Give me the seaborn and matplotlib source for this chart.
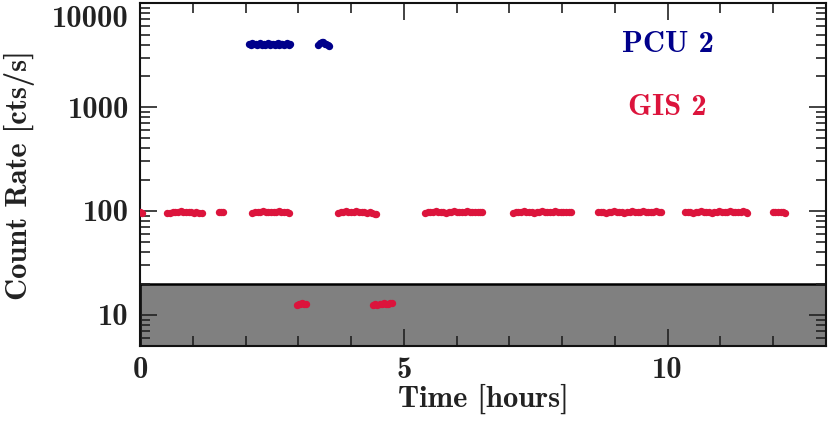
import seaborn as sns
from matplotlib import pyplot as plt
from matplotlib import ticker
from matplotlib.transforms import ScaledTranslation
import pandas as pd

# time [h] and count rates
pcu_time = [2.07, 2.10, 2.13, 2.16, 2.19, 2.22, 2.25, 2.28, 2.31, 2.34, 2.37, 2.40,
            2.43, 2.46, 2.49, 2.52, 2.55, 2.58, 2.61, 2.64, 2.67, 2.70, 2.73, 2.76,
            2.79, 2.82, 2.84,
            3.38, 3.41, 3.44, 3.47, 3.50, 3.53, 3.56, 3.58]
pcu_rate = [4100, 4000, 4150, 4050, 4100, 3950, 4080, 4120, 4000, 4100, 3980, 4080,
            4150, 4000, 4100, 4050, 3950, 4080, 4120, 4000, 4100, 4050, 3980, 4080,
            4120, 4000, 4050,
            3950, 4150, 4250, 4200, 4100, 4050, 4000, 3900]

gis_time = [0.00, 0.04,
            0.52, 0.57, 0.62, 0.67, 0.72, 0.77, 0.82, 0.87, 0.92, 0.97, 1.02, 1.07, 1.12, 1.17,
            1.50, 1.54, 1.57,
            2.13, 2.18, 2.23, 2.28, 2.33, 2.38, 2.43, 2.48, 2.53, 2.58, 2.63, 2.68, 2.73, 2.78, 2.83,
            3.75, 3.80, 3.85, 3.90, 3.95, 4.00, 4.05, 4.10, 4.15, 4.20, 4.25, 4.30, 4.35, 4.40, 4.45, 4.48,
            5.40, 5.45, 5.50, 5.55, 5.60, 5.65, 5.70, 5.75, 5.80, 5.85, 5.90, 5.95, 6.00, 6.05,
            6.10, 6.15, 6.20, 6.25, 6.30, 6.35, 6.40, 6.45, 6.48,
            7.07, 7.12, 7.17, 7.22, 7.27, 7.32, 7.37, 7.42, 7.47, 7.52, 7.57, 7.62, 7.67, 7.72,
            7.77, 7.82, 7.87, 7.92, 7.97, 8.02, 8.07, 8.12, 8.16,
            8.68, 8.73, 8.78, 8.83, 8.88, 8.93, 8.98, 9.03, 9.08, 9.13, 9.18, 9.23, 9.28, 9.33,
            9.38, 9.43, 9.48, 9.53, 9.58, 9.63, 9.68, 9.73, 9.78, 9.83, 9.87,
            10.33, 10.38, 10.43, 10.48, 10.53, 10.58, 10.63, 10.68, 10.73, 10.78, 10.83, 10.88,
            10.93, 10.98, 11.03, 11.08, 11.13, 11.18, 11.23, 11.28, 11.33, 11.38, 11.43, 11.48, 11.51,
            11.99, 12.04, 12.09, 12.14, 12.19, 12.22,
            2.98, 3.01, 3.04, 3.07, 3.10, 3.14,
            4.42, 4.46, 4.50, 4.54, 4.58, 4.62, 4.66, 4.70, 4.74, 4.78]
gis_rate = [97, 96,
            95, 96, 97, 98, 97, 99, 98, 97, 98, 97, 96, 97, 96, 95,
            97, 98, 97,
            96, 97, 98, 97, 99, 98, 97, 98, 97, 98, 99, 97, 98, 97, 96,
            96, 97, 98, 99, 98, 97, 98, 99, 97, 98, 97, 96, 97, 95, 94, 93,
            96, 97, 98, 97, 99, 97, 98, 97, 96, 98, 97, 99, 98, 97,
            98, 97, 99, 98, 97, 98, 97, 98, 97,
            96, 97, 98, 97, 99, 97, 98, 97, 96, 98, 97, 99, 98, 97,
            98, 97, 99, 98, 97, 98, 97, 98, 97,
            97, 98, 97, 96, 98, 97, 99, 97, 98, 97, 96, 98, 97, 99,
            98, 97, 98, 99, 97, 98, 97, 98, 99, 97, 98,
            97, 98, 97, 96, 98, 97, 99, 97, 98, 97, 96, 98,
            97, 99, 98, 97, 98, 99, 97, 98, 97, 98, 99, 97, 96,
            97, 98, 97, 98, 97, 96,
            12.5, 12.8, 12.7, 12.9, 12.6, 12.7,
            12.3, 12.6, 12.5, 12.8, 12.6, 12.9, 12.7, 12.8, 12.9, 13.0]

pcu = pd.DataFrame({"time": pcu_time, "rate": pcu_rate})
gis = pd.DataFrame({"time": gis_time, "rate": gis_rate})

sns.set_style("ticks")
plt.rcParams["font.family"] = ["cmb10", "DejaVu Serif"]
plt.rcParams["axes.unicode_minus"] = False

FS = 22
fig = plt.figure(figsize=(8.3, 4.21), dpi=100)
ax = fig.add_axes([0.1687, 0.178, 0.8265, 0.814])

ax.axhspan(5, 20, facecolor="#808080", edgecolor="black", linewidth=1.8, zorder=0.5)

sns.scatterplot(data=pcu, x="time", y="rate", color="#00008B", s=28, linewidth=0,
                ax=ax, zorder=3)
sns.scatterplot(data=gis, x="time", y="rate", color="#DC143C", s=28, linewidth=0,
                ax=ax, zorder=3)

ax.set_yscale("log")
ax.set_xlim(0, 13)
ax.set_ylim(5, 10000)

ax.xaxis.set_major_locator(ticker.MultipleLocator(5))
ax.xaxis.set_minor_locator(ticker.MultipleLocator(1))
ax.set_yticks([10, 100, 1000, 10000])
ax.set_yticklabels(["10", "100", "1000", "10000"])
ax.yaxis.set_minor_locator(ticker.LogLocator(base=10, subs=range(2, 10)))
ax.yaxis.set_minor_formatter(ticker.NullFormatter())

ax.tick_params(which="both", direction="in", top=True, right=True, width=1.2,
               color="#222222", labelsize=FS, labelcolor="#222222")
ax.tick_params(which="major", length=12, pad=8)
ax.tick_params(which="minor", length=7)
for sp in ax.spines.values():
    sp.set_linewidth(1.5)
    sp.set_color("#111111")

# top label sits a bit lower than its tick
lab = ax.yaxis.get_major_ticks()[-1].label1
lab.set_transform(lab.get_transform() + ScaledTranslation(0, -0.13, fig.dpi_scale_trans))

ax.set_xlabel("Time [hours]", fontsize=FS, color="#222222", labelpad=0)
ax.set_ylabel("Count Rate [cts/s]", fontsize=FS, color="#222222", labelpad=12)

ax.text(10, 4000, "PCU 2", color="#00008B", fontsize=FS, ha="center", va="center")
ax.text(10, 1000, "GIS 2", color="#DC143C", fontsize=FS, ha="center", va="center")

fig.savefig("out.png", dpi=100)
